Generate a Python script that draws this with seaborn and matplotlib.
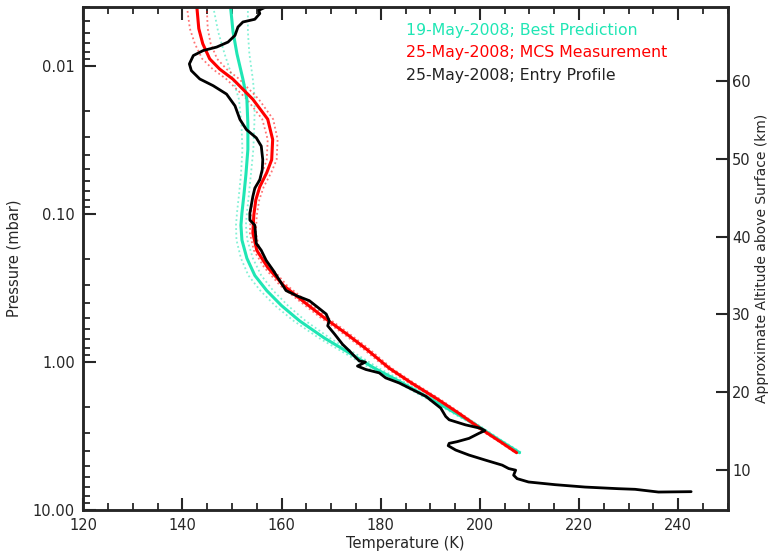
import numpy as np
import matplotlib
matplotlib.use("Agg")
import matplotlib.pyplot as plt
from matplotlib.ticker import LogLocator, FormatStrFormatter, MultipleLocator, NullFormatter, FixedLocator
import seaborn as sns

# 19-May-2008 best prediction (temperature K, pressure mbar, +/- spread K)
pred_temp = [149.7, 150.2, 151.0, 152.2, 153.0, 153.2, 153.2, 152.8, 152.4, 152.0,
             151.8, 152.0, 153.0, 154.6, 157.0, 160.0, 163.6, 168.6, 173.7, 178.7,
             183.7, 188.7, 193.8, 198.8, 203.8, 208.0]
pred_pres = [0.00397, 0.00587, 0.00829, 0.0123, 0.0168, 0.0248, 0.0367, 0.0543, 0.0743, 0.0985,
             0.119, 0.150, 0.199, 0.260, 0.329, 0.416, 0.526, 0.687, 0.869, 1.099,
             1.346, 1.675, 2.089, 2.603, 3.342, 4.093]
pred_err = [3.5, 3.0, 2.5, 2.0, 1.6, 1.3, 1.1, 1.0, 1.0, 1.0,
            1.0, 1.1, 1.2, 1.3, 1.3, 1.3, 1.2, 1.1, 1.0, 0.9,
            0.8, 0.7, 0.6, 0.5, 0.4, 0.4]

# 25-May-2008 MCS measurement
mcs_temp = [142.9, 143.3, 144.1, 145.5, 147.5, 150.2, 154.2, 157.2, 158.2, 158.0,
            157.0, 155.6, 154.8, 154.4, 154.2, 155.0, 157.2, 160.4, 164.2, 168.6,
            173.1, 177.1, 181.7, 186.3, 191.2, 195.8, 200.4, 204.4, 207.4]
mcs_pres = [0.00397, 0.00560, 0.00708, 0.00896, 0.0105, 0.0123, 0.0168, 0.0229, 0.0314, 0.0430,
            0.0526, 0.0655, 0.0803, 0.1016, 0.1346, 0.176, 0.2296, 0.304, 0.385, 0.502,
            0.645, 0.817, 1.099, 1.390, 1.758, 2.223, 2.856, 3.500, 4.093]
mcs_err = [2.0, 1.8, 1.6, 1.5, 1.4, 1.3, 1.2, 1.1, 1.0, 1.0,
           0.9, 0.8, 0.7, 0.6, 0.6, 0.6, 0.7, 0.7, 0.7, 0.7,
           0.6, 0.6, 0.5, 0.5, 0.5, 0.4, 0.4, 0.3, 0.3]

# 25-May-2008 entry profile
entry_temp = [156.9, 155.4, 155.6, 154.6, 152.2, 151.2, 150.6, 149.2, 146.9, 144.2,
              142.2, 141.4, 141.8, 143.5, 146.2, 148.9, 150.6, 151.6, 152.9, 154.9,
              155.9, 156.2, 156.1, 155.6, 154.6, 154.2, 153.6, 153.6, 154.6, 154.9,
              155.9, 156.9, 158.3, 159.6, 160.9, 163.0, 165.6, 167.3, 169.0, 169.6,
              169.3, 170.7, 172.3, 173.7, 175.0, 175.7, 176.9, 175.3, 177.0, 179.7,
              181.0, 183.7, 186.4, 189.1, 192.1, 193.1, 193.8, 197.1, 200.1, 201.0,
              199.8, 197.8, 195.4, 193.8, 193.6, 195.1, 197.8, 201.1, 204.5, 205.8,
              207.2, 206.8, 207.5, 209.8, 215.2, 221.2, 227.9, 231.3, 236.0, 242.6]
entry_pres = [0.00399, 0.00421, 0.00443, 0.00484, 0.00505, 0.00546, 0.00622, 0.0069, 0.00746, 0.00787,
              0.00851, 0.00969, 0.01076, 0.01225, 0.0136, 0.0155, 0.0186, 0.0230, 0.0269, 0.0306,
              0.0348, 0.0430, 0.0502, 0.0588, 0.0669, 0.0762, 0.0989, 0.110, 0.119, 0.158,
              0.176, 0.206, 0.240, 0.281, 0.329, 0.356, 0.385, 0.427, 0.474, 0.526,
              0.569, 0.648, 0.759, 0.842, 0.935, 0.984, 1.000, 1.064, 1.122, 1.183,
              1.279, 1.383, 1.535, 1.703, 2.046, 2.329, 2.453, 2.655, 2.799, 2.902,
              3.028, 3.275, 3.447, 3.539, 3.670, 3.925, 4.246, 4.592, 4.966, 5.236,
              5.370, 5.808, 6.124, 6.452, 6.730, 6.982, 7.161, 7.231, 7.545, 7.50]

labels = ["19-May-2008; Best Prediction", "25-May-2008; MCS Measurement", "25-May-2008; Entry Profile"]
colors = ["#1fe6b4", "#ff0000", "#222222"]

# altitude above surface ~ z0 - H*ln(10)*log10(p)
z0, h_dec = 23.86, 19.04
p_top, p_bot = 0.004, 10.0

sns.set_style("ticks")
plt.rcParams["font.family"] = ["DejaVu Sans"]
plt.rcParams["xtick.direction"] = "in"
plt.rcParams["ytick.direction"] = "in"

fig = plt.figure(figsize=(7.71, 5.60), dpi=100)
ax = fig.add_axes([0.108, 0.089, 0.836, 0.8985])

for temp, pres, err, col in [(pred_temp, pred_pres, pred_err, colors[0]),
                             (mcs_temp, mcs_pres, mcs_err, colors[1])]:
    t = np.array(temp)
    e = np.array(err)
    for sgn in (-1, 1):
        sns.lineplot(x=t + sgn * e, y=pres, sort=False, estimator=None, ax=ax,
                     color=col, lw=1.3, ls=(0, (1, 1.5)), alpha=0.55)

sns.lineplot(x=pred_temp, y=pred_pres, sort=False, estimator=None, ax=ax, color=colors[0], lw=2.2)
sns.lineplot(x=mcs_temp, y=mcs_pres, sort=False, estimator=None, ax=ax, color=colors[1], lw=2.2)
sns.lineplot(x=entry_temp, y=entry_pres, sort=False, estimator=None, ax=ax, color="black", lw=2.0)

ax.set_yscale("log")
ax.set_xlim(120, 250)
ax.set_ylim(p_bot, p_top)

ax.xaxis.set_major_locator(MultipleLocator(20))
ax.xaxis.set_minor_locator(MultipleLocator(5))
ax.yaxis.set_major_locator(FixedLocator([0.01, 0.1, 1, 10]))
ax.yaxis.set_major_formatter(FormatStrFormatter("%.2f"))
ax.yaxis.set_minor_locator(LogLocator(base=10, subs=np.arange(2, 10), numticks=20))
ax.yaxis.set_minor_formatter(NullFormatter())
ax.tick_params(axis="x", which="both", top=True, bottom=True)
ax.tick_params(axis="y", which="both", left=True, right=False)
ax.tick_params(which="major", length=9, width=1.5, labelsize=10.5, pad=6)
ax.tick_params(which="minor", length=5, width=1.3)
for sp in ax.spines.values():
    sp.set_linewidth(1.8)

ax.set_xlabel("Temperature (K)", fontsize=10.5, labelpad=2)
ax.set_ylabel("Pressure (mbar)", fontsize=10.5, labelpad=8)

ax2 = ax.twinx()
ax2.set_ylim(z0 - h_dec * np.log10(p_bot), z0 - h_dec * np.log10(p_top))
ax2.set_yticks([10, 20, 30, 40, 50, 60])
ax2.tick_params(axis="y", which="major", length=9, width=1.5, labelsize=10.5, pad=3, direction="in")
ax2.set_ylabel("Approximate Altitude above Surface (km)", fontsize=10, labelpad=3)
for sp in ax2.spines.values():
    sp.set_linewidth(1.8)

for i, (lab, col) in enumerate(zip(labels, colors)):
    ax.text(0.50, 0.954 - 0.045 * i, lab, color=col, fontsize=11.3,
            transform=ax.transAxes, va="center", ha="left")

fig.savefig("out.png", dpi=100)
